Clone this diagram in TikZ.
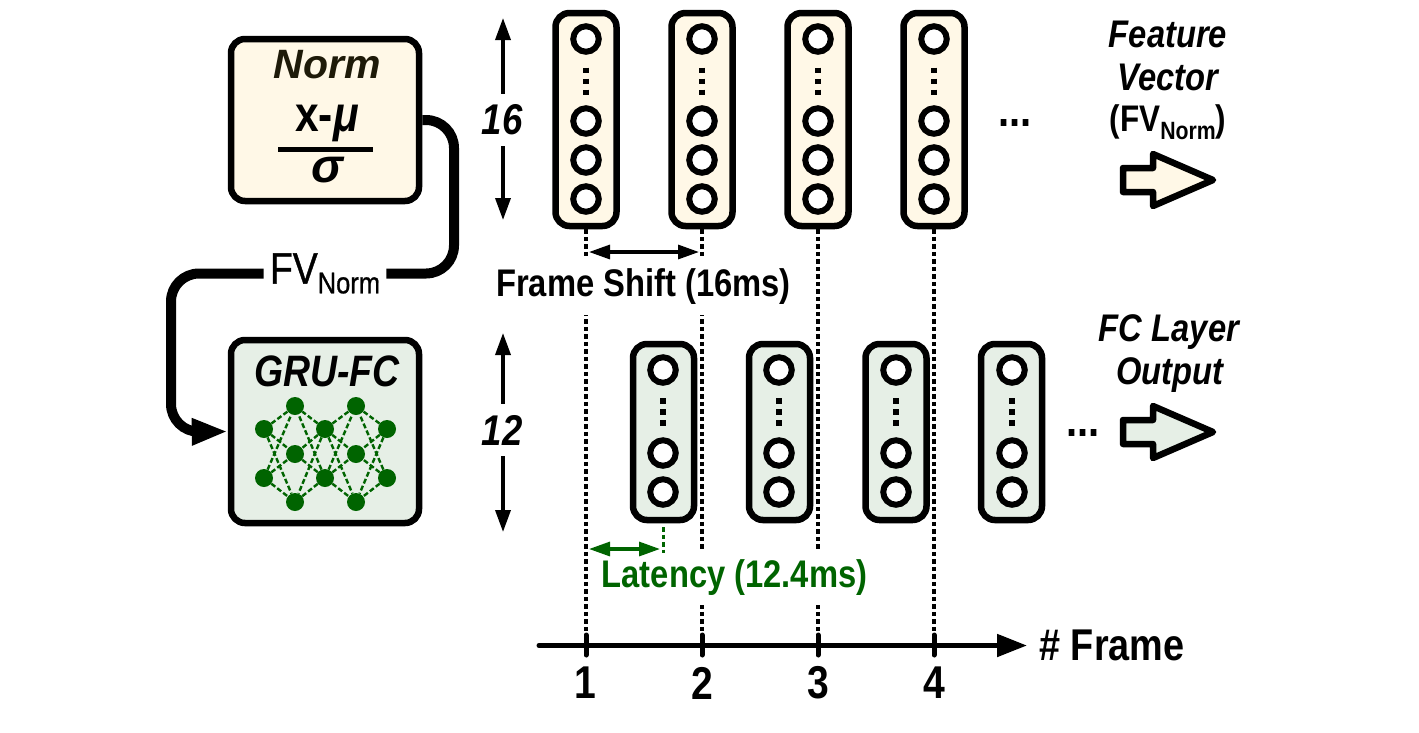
\documentclass[tikz,border=0pt]{standalone}
\usepackage{fontspec}
\setmainfont{Liberation Sans}
\newfontfamily\narrowfont[FakeStretch=0.85]{Liberation Sans}
\newfontfamily\fvfont[FakeStretch=0.85,FakeBold=0.8]{Liberation Sans}
\usetikzlibrary{arrows.meta}
\definecolor{normfill}{HTML}{FFF8E7}
\definecolor{grufill}{HTML}{E6EFE6}
\definecolor{netgreen}{HTML}{006400}
\definecolor{normtext}{HTML}{1E1A08}
\tikzset{
	blockbox/.style={draw,rounded corners=14,line width=6.5,minimum width=188},
	framebox/.style={draw,rounded corners=14,line width=6.5,minimum width=61,inner sep=0},
	cell/.style={draw,circle,fill=white,line width=6,minimum size=25.5,inner sep=0},
	vdotline/.style={line width=5.5,dash pattern=on 5.5 off 5.5},
	shiftline/.style={dash pattern=on 4.5 off 3,line width=3.8},
	fvline/.style={line width=10,rounded corners=28},
	dimline/.style={line width=3.5,{Triangle[length=22,width=15]}-{Triangle[length=22,width=15]}},
	gapline/.style={line width=3.2,{Triangle[length=21,width=14]}-{Triangle[length=21,width=14]}},
	bigarrow/.style={draw,line width=6.5,line join=round},
	net/.style={circle,fill=netgreen,minimum size=18,inner sep=0},
	netline/.style={draw=netgreen,line width=2.4,dash pattern=on 5 off 2.5},
	lab/.style={inner sep=0,font=\narrowfont\bfseries\fontsize{38.5}{40}\selectfont},
	labit/.style={inner sep=0,font=\narrowfont\bfseries\itshape\fontsize{38.5}{40}\selectfont},
	num/.style={inner sep=0,font=\narrowfont\bfseries\fontsize{46}{48}\selectfont}
}
\newcommand{\fvsub}{\raisebox{-0.22em}{\fontsize{30}{32}\selectfont Norm}}
\begin{document}
\begin{tikzpicture}[x=1pt,y=-1pt]
	\useasboundingbox (0,0) rectangle (1419,732);
	\coordinate (t1) at (586,645.5);
	\coordinate (t2) at (702,645.5);
	\coordinate (t3) at (818,645.5);
	\coordinate (t4) at (934,645.5);
	\coordinate (axs) at (539,645.5);
	\coordinate (axe) at (1027,645.5);
	\node[framebox,fill=normfill,minimum height=213] at (586,119.5) (f1) {};
	\node[framebox,fill=normfill,minimum height=213] at (702,119.5) (f2) {};
	\node[framebox,fill=normfill,minimum height=213] at (818,119.5) (f3) {};
	\node[framebox,fill=normfill,minimum height=213] at (934,119.5) (f4) {};
	\path (f1.south) edge[shiftline] (t1)
	(f2.south) edge[shiftline] (t2)
	(f3.south) edge[shiftline] (t3)
	(f4.south) edge[shiftline] (t4);
	\node[lab,fill=white,minimum height=57] at (643.5,286.5) (shift) {Frame Shift (16ms)};
	\node[lab,fill=white,minimum height=55,text=netgreen] at (734.5,577.5) (lat) {Latency (12.4ms)};
	\node[framebox,fill=grufill,minimum height=176] at (663.5,432) (g1) {};
	\node[framebox,fill=grufill,minimum height=176] at (779.5,432) (g2) {};
	\node[framebox,fill=grufill,minimum height=176] at (896,432) (g3) {};
	\node[framebox,fill=grufill,minimum height=176] at (1011.5,432) (g4) {};
	\node[cell] at (586,39) (f1a) {};
	\node[cell] at (586,121) (f1b) {};
	\node[cell] at (586,160) (f1c) {};
	\node[cell] at (586,199) (f1d) {};
	\node[cell] at (702,39) (f2a) {};
	\node[cell] at (702,121) (f2b) {};
	\node[cell] at (702,160) (f2c) {};
	\node[cell] at (702,199) (f2d) {};
	\node[cell] at (818,39) (f3a) {};
	\node[cell] at (818,121) (f3b) {};
	\node[cell] at (818,160) (f3c) {};
	\node[cell] at (818,199) (f3d) {};
	\node[cell] at (934,39) (f4a) {};
	\node[cell] at (934,121) (f4b) {};
	\node[cell] at (934,160) (f4c) {};
	\node[cell] at (934,199) (f4d) {};
	\node[cell] at (663,370) (g1a) {};
	\node[cell] at (663,453) (g1b) {};
	\node[cell] at (663,492) (g1c) {};
	\node[cell] at (779,370) (g2a) {};
	\node[cell] at (779,453) (g2b) {};
	\node[cell] at (779,492) (g2c) {};
	\node[cell] at (896,370) (g3a) {};
	\node[cell] at (896,453) (g3b) {};
	\node[cell] at (896,492) (g3c) {};
	\node[cell] at (1012,370) (g4a) {};
	\node[cell] at (1012,453) (g4b) {};
	\node[cell] at (1012,492) (g4c) {};
	\draw[vdotline] (586,67.5) -- (586,95);
	\draw[vdotline] (702,67.5) -- (702,95);
	\draw[vdotline] (818,67.5) -- (818,95);
	\draw[vdotline] (934,67.5) -- (934,95);
	\draw[vdotline] (663,398) -- (663,425.5);
	\draw[vdotline] (779,398) -- (779,425.5);
	\draw[vdotline] (896,398) -- (896,425.5);
	\draw[vdotline] (1012,398) -- (1012,425.5);
	\node[blockbox,fill=normfill,minimum height=162] at (325,120) (norm) {};
	\node[blockbox,fill=grufill,minimum height=183] at (325,431.5) (gru) {};
	\node[inner sep=0,text=normtext,font=\bfseries\itshape\fontsize{41}{44}\selectfont] at (327,65) (normt) {Norm};
	\node[inner sep=0,font=\narrowfont\bfseries\fontsize{50}{52}\selectfont] at (327,123) (xmu) {x-\textit{μ}};
	\node[inner sep=0,font=\bfseries\itshape\fontsize{48}{50}\selectfont] at (327,170) (sig) {σ};
	\draw[line width=5] (278,149) -- (373,149);
	\node[labit,font=\narrowfont\bfseries\itshape\fontsize{44}{46}\selectfont] at (327,371) (grut) {GRU-FC};
	\node[net] at (264,429) (n1a) {};
	\node[net] at (264,478) (n1b) {};
	\node[net] at (295,406) (n2a) {};
	\node[net] at (295,454) (n2b) {};
	\node[net] at (295,502) (n2c) {};
	\node[net] at (325,429) (n3a) {};
	\node[net] at (325,478) (n3b) {};
	\node[net] at (356,406) (n4a) {};
	\node[net] at (356,454) (n4b) {};
	\node[net] at (356,502) (n4c) {};
	\node[net] at (387,429) (n5a) {};
	\node[net] at (387,478) (n5b) {};
	\path[netline] (n1a) edge (n2a)
	(n1a) edge (n2b)
	(n1a) edge (n2c)
	(n1b) edge (n2a)
	(n1b) edge (n2b)
	(n1b) edge (n2c)
	(n3a) edge (n2a)
	(n3a) edge (n2b)
	(n3a) edge (n2c)
	(n3b) edge (n2a)
	(n3b) edge (n2b)
	(n3b) edge (n2c)
	(n3a) edge (n4a)
	(n3a) edge (n4b)
	(n3a) edge (n4c)
	(n3b) edge (n4a)
	(n3b) edge (n4b)
	(n3b) edge (n4c)
	(n5a) edge (n4a)
	(n5a) edge (n4b)
	(n5a) edge (n4c)
	(n5b) edge (n4a)
	(n5b) edge (n4b)
	(n5b) edge (n4c);
	\node[inner sep=0,inner xsep=6,fill=white,minimum height=40,font=\fvfont\fontsize{44}{46}\selectfont] at (325,273.5) (fv) {\raisebox{-2pt}{FV\fvsub}};
	\draw[fvline] (norm.east) -- (454,120) -- (454,273.5) -- (fv.east);
	\draw[fvline,-{Triangle[length=36,width=25]}] (fv.west) -- (171,273.5) -- (171,432) -- (gru.west);
	\coordinate (d1a) at (503,18);
	\coordinate (d1b) at (503,220);
	\coordinate (d2a) at (503,333);
	\coordinate (d2b) at (503,532);
	\draw[dimline] (d1a) -- (d1b);
	\draw[dimline] (d2a) -- (d2b);
	\node[labit,fill=white,minimum height=52,font=\narrowfont\bfseries\itshape\fontsize{43}{46}\selectfont] at (502,120) (n16) {16};
	\node[labit,fill=white,minimum height=52,font=\narrowfont\bfseries\itshape\fontsize{43}{46}\selectfont] at (502,430) (n12) {12};
	\coordinate (sa) at (589,252);
	\coordinate (sb) at (699,252);
	\draw[gapline] (sa) -- (sb);
	\coordinate (la) at (589,549);
	\coordinate (lb) at (660,549);
	\coordinate (lc) at (663.5,527);
	\coordinate (ld) at (663.5,553);
	\draw[gapline,draw=netgreen,fill=netgreen] (la) -- (lb);
	\draw[shiftline,draw=netgreen] (lc) -- (ld);
	\draw[line width=5,line cap=round] (axs) -- (1000,645.5);
	\draw[line width=5,-{Triangle[length=30,width=22]}] (990,645.5) -- (axe);
	\draw[line width=5,line cap=round] (586,635) -- (586,655);
	\draw[line width=5,line cap=round] (702,635) -- (702,655);
	\draw[line width=5,line cap=round] (818,635) -- (818,655);
	\draw[line width=5,line cap=round] (934,635) -- (934,655);
	\node[num] at (585,683) (n1) {1};
	\node[num] at (702,683) (n2) {2};
	\node[num] at (818,683) (n3) {3};
	\node[num] at (934,683) (n4) {4};
	\node[lab,font=\narrowfont\bfseries\fontsize{44.5}{46}\selectfont] at (1112,645) (fr) {\# Frame};
	\node[lab,font=\narrowfont\bfseries\fontsize{47}{48}\selectfont] at (1015,123) (dots1) {...};
	\node[lab,font=\narrowfont\bfseries\fontsize{47}{48}\selectfont] at (1083,433) (dots2) {...};
	\node[labit] at (1168,34) (feat) {Feature};
	\node[labit] at (1168,77) (vect) {Vector};
	\node[lab,font=\narrowfont\bfseries\fontsize{37}{40}\selectfont] at (1168,122) (fvn) {(FV{\raisebox{-0.22em}{\fontsize{25}{26}\selectfont Norm}})};
	\node[labit] at (1169,332) (fcl) {FC Layer};
	\node[labit] at (1170,375) (outp) {Output};
	\draw[bigarrow,fill=normfill] (1123,168) -- (1153,168) -- (1153,154) -- (1213,180) -- (1153,206) -- (1153,192) -- (1123,192) -- cycle;
	\draw[bigarrow,fill=grufill] (1123,420) -- (1153,420) -- (1153,406) -- (1213,432) -- (1153,458) -- (1153,444) -- (1123,444) -- cycle;
\end{tikzpicture}
\end{document}
